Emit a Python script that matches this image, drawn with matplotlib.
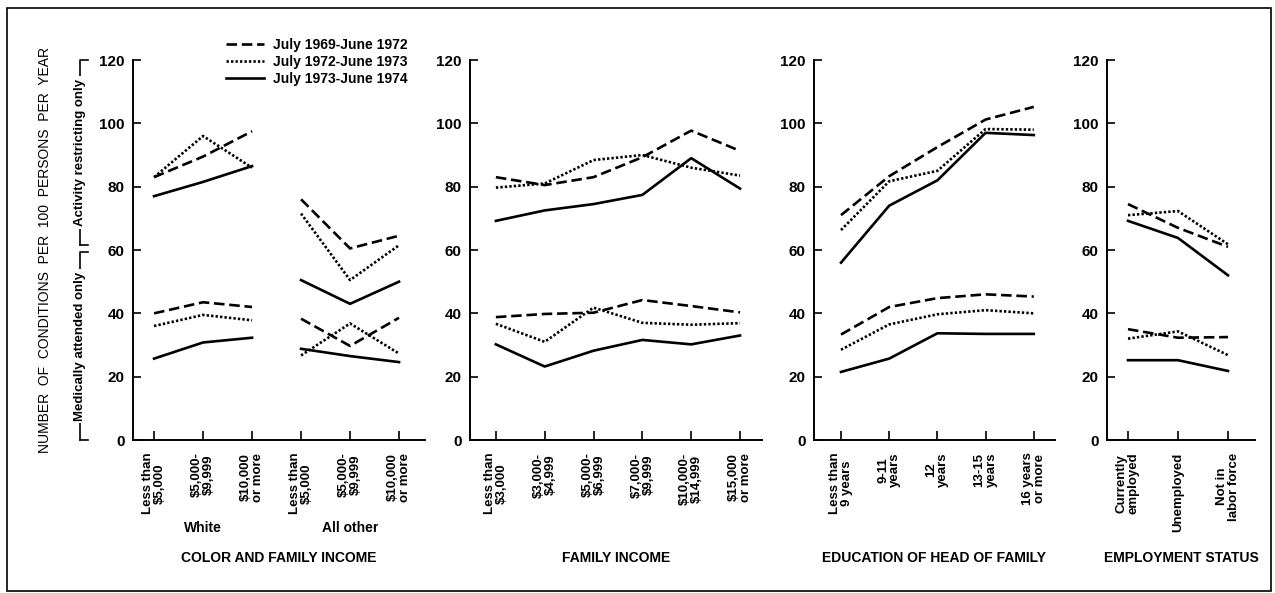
import matplotlib.pyplot as plt
from matplotlib.lines import Line2D
from matplotlib.patches import Rectangle
from matplotlib.transforms import blended_transform_factory

plt.rcParams['font.family'] = ['Liberation Sans', 'DejaVu Sans']
plt.rcParams['font.weight'] = 'bold'

periods = ['July 1969-June 1972', 'July 1972-June 1973', 'July 1973-June 1974']
yticks = [0, 20, 40, 60, 80, 100, 120]

# color and family income (white / all other), one row per period
color_labels = ['Less than\n$5,000', '$5,000-\n$9,999', '$10,000\nor more',
                'Less than\n$5,000', '$5,000-\n$9,999', '$10,000\nor more']
color_groups = ['White', 'All other']
white_activity = [[83, 89.5, 97.5], [83, 96, 86], [77, 81.5, 86.5]]
other_activity = [[76, 60.5, 64.5], [71.5, 50.5, 61.5], [50.5, 43, 50]]
white_medical = [[40, 43.5, 42], [36, 39.5, 37.8], [25.7, 30.8, 32.3]]
other_medical = [[38.3, 29.7, 38.6], [26.7, 36.8, 27.3], [28.8, 26.5, 24.6]]

# family income
income_labels = ['Less than\n$3,000', '$3,000-\n$4,999', '$5,000-\n$6,999',
                 '$7,000-\n$9,999', '$10,000-\n$14,999', '$15,000\nor more']
income_activity = [[83, 80.5, 83, 89.3, 97.7, 91.3],
                   [79.7, 81, 88.4, 90, 86, 83.5],
                   [69.2, 72.5, 74.5, 77.4, 89, 79.4]]
income_medical = [[38.8, 39.8, 40.2, 44.2, 42.3, 40.3],
                  [36.7, 31, 41.8, 37, 36.4, 36.9],
                  [30.2, 23.2, 28.2, 31.6, 30.2, 33]]

# education of head of family
edu_labels = ['Less than\n9 years', '9-11\nyears', '12\nyears', '13-15\nyears', '16 years\nor more']
edu_activity = [[71, 83.3, 92.5, 101.2, 105.2],
                [66.3, 81.7, 85, 98.2, 98],
                [56, 74, 82, 97, 96.3]]
edu_medical = [[33.3, 42, 44.8, 46, 45.3],
               [28.5, 36.5, 39.7, 41, 40],
               [21.5, 25.7, 33.7, 33.5, 33.5]]

# employment status
emp_labels = ['Currently\nemployed', 'Unemployed', 'Not in\nlabor force']
emp_activity = [[74.5, 67, 61], [71, 72.3, 61.8], [69.2, 63.8, 52]]
emp_medical = [[35, 32.3, 32.5], [32, 34.3, 26.8], [25.2, 25.2, 21.8]]

styles = [(0, (4, 1.8)), (0, (0.9, 0.8)), '-']
LW = 1.9

W, H = 1275, 593
fig = plt.figure(figsize=(W / 100, H / 100), dpi=100)


def px_axes(x0, x1):
    return fig.add_axes([x0 / W, 1 - 440 / H, (x1 - x0) / W, 380 / H])


def style_axes(ax, labels, xlim, title):
    ax.set_xlim(*xlim)
    ax.set_ylim(0, 120)
    ax.set_yticks(yticks)
    ax.set_xticks(range(len(labels)))
    ax.set_xticklabels(labels, rotation=90, ha='center', va='top',
                       multialignment='center', fontsize=9.5, linespacing=1.0)
    for s in ['top', 'right']:
        ax.spines[s].set_visible(False)
    ax.spines['left'].set_linewidth(1.4)
    ax.spines['bottom'].set_linewidth(1.4)
    ax.tick_params(axis='y', direction='in', length=6, width=1.2, pad=6, labelsize=11)
    ax.tick_params(axis='x', direction='in', length=6.5, width=1.2, pad=9)
    tr = blended_transform_factory(ax.transAxes, fig.transFigure)
    ax.text(0.5, 1 - 558 / H, title, transform=tr, ha='center', va='center', fontsize=10)


# panel 1
ax1 = px_axes(133, 425)
for i in range(3):
    ax1.plot([0, 1, 2], white_activity[i], ls=styles[i], color='black', lw=LW, label=periods[i])
    ax1.plot([3, 4, 5], other_activity[i], ls=styles[i], color='black', lw=LW)
    ax1.plot([0, 1, 2], white_medical[i], ls=styles[i], color='black', lw=LW)
    ax1.plot([3, 4, 5], other_medical[i], ls=styles[i], color='black', lw=LW)
style_axes(ax1, color_labels, (-0.43, 5.53), 'COLOR AND FAMILY INCOME')
tr1 = blended_transform_factory(ax1.transData, fig.transFigure)
ax1.text(1, 1 - 528 / H, color_groups[0], transform=tr1, ha='center', va='center', fontsize=10)
ax1.text(4, 1 - 528 / H, color_groups[1], transform=tr1, ha='center', va='center', fontsize=10)
ax1.legend(loc='upper left', bbox_to_anchor=(226 / W, 1 - 38 / H), bbox_transform=fig.transFigure,
           frameon=False, fontsize=10, handlelength=2.7, handletextpad=0.7, labelspacing=0.2,
           borderpad=0, borderaxespad=0)

# panel 2
ax2 = px_axes(470, 762)
for i in range(3):
    ax2.plot(range(6), income_activity[i], ls=styles[i], color='black', lw=LW)
    ax2.plot(range(6), income_medical[i], ls=styles[i], color='black', lw=LW)
style_axes(ax2, income_labels, (-0.53, 5.45), 'FAMILY INCOME')

# panel 3
ax3 = px_axes(814, 1055)
for i in range(3):
    ax3.plot(range(5), edu_activity[i], ls=styles[i], color='black', lw=LW)
    ax3.plot(range(5), edu_medical[i], ls=styles[i], color='black', lw=LW)
style_axes(ax3, edu_labels, (-0.56, 4.44), 'EDUCATION OF HEAD OF FAMILY')

# panel 4
ax4 = px_axes(1107, 1255)
for i in range(3):
    ax4.plot(range(3), emp_activity[i], ls=styles[i], color='black', lw=LW)
    ax4.plot(range(3), emp_medical[i], ls=styles[i], color='black', lw=LW)
style_axes(ax4, emp_labels, (-0.42, 2.54), 'EMPLOYMENT STATUS')

# y axis titles
fig.text(45 / W, 1 - 250 / H, 'NUMBER  OF  CONDITIONS  PER  100  PERSONS  PER  YEAR',
         rotation=90, ha='center', va='center', fontsize=10, fontweight='normal')


def bracket(y_top, y_bot, text):
    x = 80 / W
    tick = 8 / W
    ft, fb = 1 - y_top / H, 1 - y_bot / H
    fig.add_artist(Line2D([x + tick, x, x], [ft, ft, fb], color='black', lw=1.2))
    fig.add_artist(Line2D([x, x + tick], [fb, fb], color='black', lw=1.2))
    fig.text(x, (ft + fb) / 2, text, rotation=90, ha='center', va='center', fontsize=9.5,
             bbox=dict(facecolor='white', edgecolor='none', pad=2))


bracket(60, 245, 'Activity restricting only')
bracket(252, 440, 'Medically attended only')

fig.add_artist(Rectangle((7 / W, 2 / H), 1264 / W, 583 / H, transform=fig.transFigure,
                         fill=False, edgecolor='black', lw=1.2))

fig.savefig('out.png', dpi=100)
